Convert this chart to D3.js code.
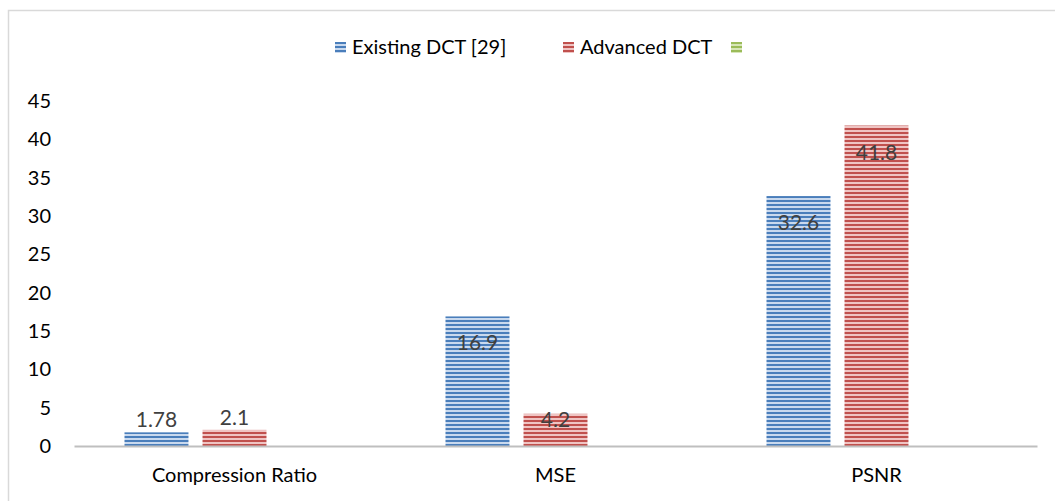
<!DOCTYPE html>
<html>
<head>
<meta charset="utf-8">
<script src="https://cdn.jsdelivr.net/npm/d3@7"></script>
<style>
  body { margin: 0; background: #fff; }
  text { font-family: Lato, "Open Sans", sans-serif; }
</style>
</head>
<body>
<div id="chart"></div>
<script>
const categories = ['Compression Ratio', 'MSE', 'PSNR']
const seriesNames = ['Existing DCT [29]', 'Advanced DCT', '']
const existingDct = [1.78, 16.9, 32.6]
const advancedDct = [2.1, 4.2, 41.8]
const thirdSeries = [null, null, null]
const yTicks = [0, 5, 10, 15, 20, 25, 30, 35, 40, 45]

const config = {
  width: 1055,
  height: 501,
  left: 74,
  right: 1037,
  top: 101,
  bottom: 446,
  fontSize: 20
}

const colors = [
  { dark: '#4a7ebb', light: '#c9d9ee' },
  { dark: '#c0504d', light: '#efc4c3' },
  { dark: '#9bbb59', light: '#d7e6b8' }
]

const series = [existingDct, advancedDct, thirdSeries]

const svg = d3.select('#chart').append('svg')
  .attr('width', config.width)
  .attr('height', config.height)

// striped fills
const defs = svg.append('defs')
colors.forEach((c, i) => {
  const p = defs.append('pattern')
    .attr('id', 'stripe' + i)
    .attr('patternUnits', 'userSpaceOnUse')
    .attr('width', 8)
    .attr('height', 4)
  p.append('rect').attr('width', 8).attr('height', 4).attr('fill', c.light)
  p.append('rect').attr('width', 8).attr('height', 2).attr('fill', c.dark)
})

// outer frame
svg.append('rect')
  .attr('x', 8.5).attr('y', 10.5)
  .attr('width', 1100).attr('height', 600)
  .attr('fill', 'none')
  .attr('stroke', '#d9d9d9')
  .attr('stroke-width', 1.5)

const x0 = d3.scaleBand()
  .domain(categories)
  .range([config.left, config.right])

const x1 = d3.scaleBand()
  .domain(d3.range(series.length))
  .range([50.5, 270.5])
  .paddingInner(0.18)

const y = d3.scaleLinear()
  .domain([0, 45])
  .range([config.bottom, config.top])

// y axis labels
const yAxis = d3.axisLeft(y).tickValues(yTicks).tickSize(0).tickPadding(0)
const yg = svg.append('g')
  .attr('transform', `translate(51,0)`)
  .call(yAxis)
yg.select('.domain').remove()
yg.selectAll('text')
  .attr('font-size', config.fontSize)
  .attr('fill', '#000')
  .style('font-family', 'Lato, sans-serif')

// bars
categories.forEach((cat, ci) => {
  series.forEach((vals, si) => {
    const v = vals[ci]
    if (v == null) return
    svg.append('rect')
      .attr('x', x0(cat) + x1(si))
      .attr('y', y(v))
      .attr('width', x1.bandwidth())
      .attr('height', y(0) - y(v))
      .attr('fill', `url(#stripe${si})`)
  })
})

// x axis
const xAxis = d3.axisBottom(x0).tickSize(0).tickPadding(22)
const xg = svg.append('g')
  .attr('transform', `translate(0,${config.bottom})`)
  .call(xAxis)
xg.select('.domain')
  .attr('stroke', '#bfbfbf')
  .attr('stroke-width', 2)
xg.selectAll('text')
  .attr('font-size', config.fontSize)
  .attr('fill', '#000')
  .style('font-family', 'Lato, sans-serif')

// value labels
categories.forEach((cat, ci) => {
  series.forEach((vals, si) => {
    const v = vals[ci]
    if (v == null) return
    const h = y(0) - y(v)
    const base = h < 20 ? y(v) - 5 : y(v) + Math.min(34, h * 0.4)
    svg.append('text')
      .attr('x', x0(cat) + x1(si) + x1.bandwidth() / 2)
      .attr('y', base)
      .attr('text-anchor', 'middle')
      .attr('font-size', config.fontSize + 1)
      .attr('fill', '#404040')
      .text(v)
  })
})

// legend
const legendX = [335, 563, 731]
const legend = svg.append('g')
seriesNames.forEach((name, i) => {
  const g = legend.append('g').attr('transform', `translate(${legendX[i]},42)`)
  g.append('rect')
    .attr('width', 11).attr('height', 11)
    .attr('fill', `url(#stripe${i})`)
  g.append('text')
    .attr('x', 17).attr('y', 12)
    .attr('font-size', config.fontSize)
    .attr('fill', '#000')
    .text(name)
})
</script>
</body>
</html>
